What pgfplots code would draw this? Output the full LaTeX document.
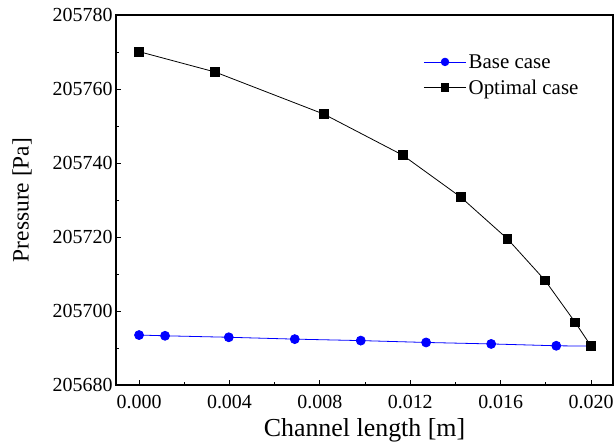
\documentclass[border=0pt]{standalone}
\usepackage{pgfplots}
\pgfplotsset{compat=1.18}
\usepackage{fontspec}
\setmainfont{Liberation Serif}

\begin{document}
\begin{tikzpicture}
  \useasboundingbox (0,0) rectangle (616bp,447bp);
  \begin{axis}[
    at={(116bp,62bp)}, anchor=south west,
    scale only axis,
    width=497bp, height=370bp,
    xmin=-0.00102, xmax=0.02097,
    ymin=205680, ymax=205780,
    xtick={0,0.004,0.008,0.012,0.016,0.020},
    xticklabels={0.000,0.004,0.008,0.012,0.016,0.020},
    ytick={205680,205700,205720,205740,205760,205780},
    yticklabels={205680,205700,205720,205740,205760,205780},
    scaled x ticks=false, scaled y ticks=false,
    minor x tick num=1, minor y tick num=1,
    xtick pos=lower, ytick pos=left,
    tick align=inside,
    major tick length=5bp, minor tick length=3bp,
    axis line style={line width=1.1pt},
    every tick/.style={black, line width=0.9pt},
    ticklabel style={font=\fontsize{20}{22}\selectfont},
    xticklabel style={yshift=-7bp},
    /pgf/number format/assume math mode=true,
    xlabel={Channel length [m]},
    ylabel={Pressure [Pa]},
    xlabel style={font=\fontsize{26}{28}\selectfont, at={(axis description cs:0.5,-0.122)}, anchor=center},
    ylabel style={font=\fontsize{23.5}{26}\selectfont, at={(axis description cs:-0.189,0.5)}, anchor=center},
    legend style={
      at={(axis description cs:0.612,0.905)}, anchor=north west,
      draw=none, fill=none,
      font=\fontsize{21}{23}\selectfont,
      row sep=6bp,
    },
    legend cell align=left,
    legend image code/.code={
      \draw[mark repeat=2, mark phase=2, mark size=3.8pt] plot coordinates {(0cm,0cm) (0.75cm,0cm) (1.5cm,0cm)};
    },
  ]
  \addplot[blue, line width=0.8pt, mark=*, mark size=4.5pt, mark options={fill=blue, draw=blue}]
    coordinates {
      (0.00000,205693.5) (0.00115,205693.3) (0.00397,205692.9) (0.00689,205692.4)
      (0.00981,205692.0) (0.01270,205691.5) (0.01558,205691.1) (0.01846,205690.6)
      (0.02000,205690.5)
    };
  \addlegendentry{Base case}
  \addplot[black, line width=0.8pt, mark=square*, mark size=4.4pt, mark options={fill=black}]
    coordinates {
      (0.00000,205770.1) (0.00336,205764.6) (0.00818,205753.2) (0.01167,205742.1)
      (0.01423,205730.8) (0.01630,205719.5) (0.01796,205708.3) (0.01930,205696.9)
      (0.02000,205690.5)
    };
  \addlegendentry{Optimal case}
  \end{axis}
\end{tikzpicture}
\end{document}
